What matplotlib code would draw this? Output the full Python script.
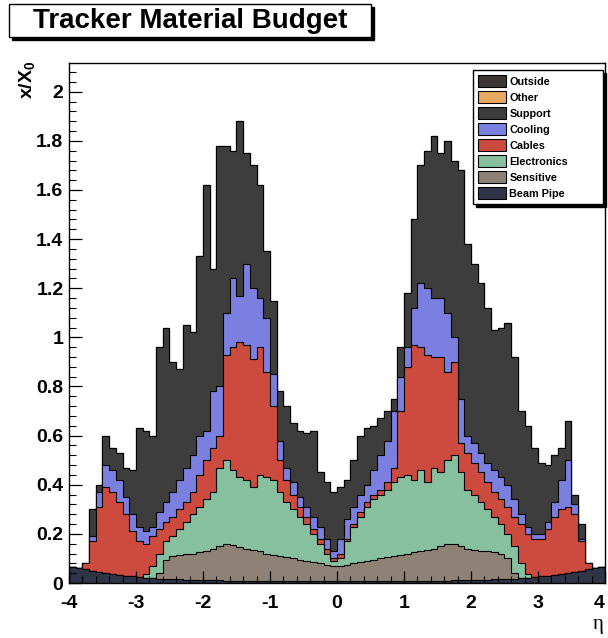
import numpy as np
import matplotlib.pyplot as plt
from matplotlib.patches import Patch, Rectangle

plt.rcParams['font.family'] = ['Liberation Sans', 'DejaVu Sans']
plt.rcParams['mathtext.fontset'] = 'custom'
plt.rcParams['mathtext.rm'] = 'Liberation Sans'
plt.rcParams['mathtext.bf'] = 'Liberation Sans:bold'

# eta bins, width 0.1
eta_edges = np.linspace(-4, 4, 81)

# stacked x/X0 levels (each list is the running total up to that subsystem)
beam_pipe = [0.065, 0.06, 0.055, 0.05, 0.045, 0.041, 0.037, 0.033, 0.03, 0.027,
             0.024, 0.022, 0.02, 0.018, 0.017, 0.016, 0.015, 0.014, 0.013, 0.012,
             0.012, 0.011, 0.011, 0.01, 0.01, 0.01, 0.01, 0.01, 0.01, 0.01,
             0.01, 0.01, 0.01, 0.01, 0.01, 0.01, 0.01, 0.01, 0.01, 0.01,
             0.01, 0.01, 0.01, 0.01, 0.01, 0.01, 0.01, 0.01, 0.01, 0.01,
             0.01, 0.01, 0.01, 0.01, 0.01, 0.01, 0.01, 0.011, 0.011, 0.012,
             0.012, 0.013, 0.014, 0.015, 0.016, 0.017, 0.018, 0.02, 0.022, 0.024,
             0.027, 0.03, 0.033, 0.037, 0.041, 0.045, 0.05, 0.055, 0.06, 0.065]

sensitive = [0.065, 0.06, 0.055, 0.05, 0.045, 0.041, 0.037, 0.033, 0.03, 0.027,
             0.024, 0.022, 0.02, 0.04, 0.095, 0.11, 0.115, 0.12, 0.12, 0.125,
             0.13, 0.14, 0.15, 0.16, 0.155, 0.145, 0.14, 0.135, 0.13, 0.12,
             0.115, 0.11, 0.105, 0.1, 0.095, 0.09, 0.085, 0.08, 0.075, 0.07,
             0.07, 0.075, 0.08, 0.085, 0.09, 0.095, 0.1, 0.105, 0.11, 0.115,
             0.12, 0.125, 0.13, 0.135, 0.14, 0.15, 0.16, 0.16, 0.15, 0.14,
             0.135, 0.13, 0.13, 0.125, 0.12, 0.1, 0.04, 0.02, 0.022, 0.024,
             0.027, 0.03, 0.033, 0.037, 0.041, 0.045, 0.05, 0.055, 0.06, 0.065]

electronics = [0.065, 0.06, 0.055, 0.05, 0.045, 0.041, 0.037, 0.033, 0.03, 0.027,
               0.024, 0.035, 0.07, 0.12, 0.17, 0.19, 0.22, 0.25, 0.28, 0.31,
               0.34, 0.37, 0.47, 0.5, 0.46, 0.43, 0.42, 0.39, 0.44, 0.43,
               0.42, 0.37, 0.33, 0.3, 0.27, 0.24, 0.2, 0.16, 0.12, 0.09,
               0.1, 0.17, 0.23, 0.27, 0.31, 0.34, 0.36, 0.38, 0.41, 0.43,
               0.44, 0.42, 0.46, 0.41, 0.47, 0.45, 0.5, 0.52, 0.45, 0.38,
               0.36, 0.33, 0.3, 0.27, 0.24, 0.2, 0.15, 0.08, 0.035, 0.024,
               0.027, 0.03, 0.033, 0.037, 0.041, 0.045, 0.05, 0.055, 0.06, 0.065]

cables = [0.065, 0.06, 0.08, 0.17, 0.31, 0.39, 0.37, 0.33, 0.28, 0.21,
          0.17, 0.16, 0.19, 0.22, 0.25, 0.27, 0.3, 0.33, 0.37, 0.44,
          0.5, 0.55, 0.6, 0.93, 0.96, 0.98, 0.97, 0.91, 0.96, 0.86,
          0.72, 0.5, 0.42, 0.36, 0.31, 0.27, 0.22, 0.18, 0.14, 0.1,
          0.12, 0.18, 0.24, 0.29, 0.33, 0.36, 0.38, 0.41, 0.47, 0.7,
          0.88, 0.97, 0.96, 0.93, 0.92, 0.92, 0.86, 0.9, 0.57, 0.53,
          0.49, 0.45, 0.41, 0.37, 0.34, 0.31, 0.27, 0.24, 0.2, 0.18,
          0.18, 0.22, 0.27, 0.3, 0.31, 0.28, 0.17, 0.08, 0.06, 0.065]

cooling = [0.065, 0.06, 0.08, 0.19, 0.37, 0.48, 0.46, 0.42, 0.35, 0.28,
           0.23, 0.21, 0.23, 0.29, 0.33, 0.37, 0.42, 0.47, 0.52, 0.6,
           0.62, 0.78, 0.8, 1.1, 1.24, 1.17, 1.3, 1.2, 1.16, 1.08,
           0.85, 0.58, 0.47, 0.41, 0.35, 0.31, 0.27, 0.23, 0.18, 0.13,
           0.18, 0.26, 0.31, 0.36, 0.4, 0.46, 0.52, 0.58, 0.7, 0.84,
           0.96, 1.12, 1.22, 1.2, 1.16, 1.16, 1.1, 1.0, 0.75, 0.6,
           0.57, 0.53, 0.49, 0.46, 0.43, 0.4, 0.34, 0.28, 0.23, 0.2,
           0.2, 0.25, 0.33, 0.42, 0.5, 0.32, 0.18, 0.08, 0.06, 0.065]

support = [0.065, 0.06, 0.08, 0.3, 0.4, 0.6, 0.55, 0.53, 0.47, 0.46,
           0.63, 0.62, 0.6, 0.96, 1.04, 0.9, 0.87, 1.05, 1.02, 1.33,
           1.62, 1.28, 1.78, 1.78, 1.76, 1.88, 1.75, 1.7, 1.62, 1.35,
           1.15, 0.78, 0.72, 0.65, 0.62, 0.61, 0.62, 0.45, 0.41, 0.37,
           0.39, 0.42, 0.5, 0.6, 0.63, 0.64, 0.67, 0.7, 0.75, 0.96,
           1.18, 1.48, 1.7, 1.76, 1.82, 1.75, 1.8, 1.72, 1.68, 1.38,
           1.3, 1.22, 1.12, 1.03, 1.04, 1.06, 0.92, 0.7, 0.64, 0.55,
           0.49, 0.48, 0.52, 0.55, 0.66, 0.36, 0.24, 0.08, 0.06, 0.065]

# nothing is booked under "Other" or "Outside"
other = support
outside = support

layer_names = ['Outside', 'Other', 'Support', 'Cooling', 'Cables',
               'Electronics', 'Sensitive', 'Beam Pipe']
layer_values = [outside, other, support, cooling, cables,
                electronics, sensitive, beam_pipe]
layer_colors = ['#3b3631', '#e8a961', '#3d3d3d', '#7b7fe0', '#cc4a3e',
                '#86c09e', '#8e8276', '#2f3447']

fig = plt.figure(figsize=(6.08, 6.38), dpi=100)
ax = fig.add_axes([69 / 608, 55 / 638, 536 / 608, 520 / 638])

# draw like a THStack: biggest total first, lower ones on top
for vals, col in zip(layer_values, layer_colors):
    ax.stairs(vals, eta_edges, fill=True, baseline=0,
              facecolor=col, edgecolor='black', linewidth=0.8)

ax.set_xlim(-4, 4)
ax.set_ylim(0, 2.117)
ax.set_xticks(np.arange(-4, 4.01, 1))
ax.set_xticks(np.arange(-4, 4.01, 0.2), minor=True)
ax.set_yticks(np.arange(0, 2.01, 0.2))
ax.set_yticks(np.arange(0, 2.1, 0.04), minor=True)
ax.set_xticklabels(['-4', '-3', '-2', '-1', '0', '1', '2', '3', '4'])
ax.set_yticklabels(['0', '0.2', '0.4', '0.6', '0.8', '1', '1.2', '1.4',
                    '1.6', '1.8', '2'])
ax.tick_params(which='both', direction='in', top=False, right=False)
ax.tick_params(which='major', length=9, width=0.9)
ax.tick_params(which='minor', length=5, width=0.8)
ax.tick_params(axis='x', pad=9)
ax.tick_params(axis='y', pad=4)
for lab in ax.get_xticklabels() + ax.get_yticklabels():
    lab.set_fontsize(14)
    lab.set_fontweight('bold')
# last label sits on the frame edge, keep it inside the canvas
ax.get_xticklabels()[-1].set_horizontalalignment('right')
for sp in ax.spines.values():
    sp.set_linewidth(1.0)

handles = [Patch(facecolor=c, edgecolor='black', linewidth=0.8, label=n)
           for n, c in zip(layer_names, layer_colors)]
leg = ax.legend(handles=handles, loc='upper left', mode='expand',
                bbox_to_anchor=((473 - 69) / 536, 1 - 7 / 520,
                                130 / 536, 0.0),
                borderaxespad=0, frameon=True, fancybox=False,
                edgecolor='black', framealpha=1,
                prop={'weight': 'bold', 'size': 7.8},
                handlelength=2.5, handleheight=1.25, handletextpad=0.35,
                labelspacing=0.42, borderpad=0.5,
                shadow={'facecolor': 'black', 'edgecolor': 'black', 'alpha': 1})
leg.get_frame().set_linewidth(1.0)

# title box with drop shadow
fig.patches.append(Rectangle((12 / 608, 1 - 40 / 638), 362 / 608, 33 / 638,
                             transform=fig.transFigure, facecolor='black',
                             edgecolor='black', zorder=1))
fig.patches.append(Rectangle((9 / 608, 1 - 37 / 638), 362 / 608, 33 / 638,
                             transform=fig.transFigure, facecolor='white',
                             edgecolor='black', linewidth=1.0, zorder=2))
fig.text(190 / 608, 1 - 21 / 638, 'Tracker Material Budget', fontsize=20,
         fontweight='bold', ha='center', va='center', zorder=3)

fig.text(27 / 608, 1 - 80 / 638, r'$\mathbf{x/X_0}$', fontsize=14,
         rotation=90, ha='center', va='center')
fig.text(598 / 608, 1 - 624 / 638, 'η', fontsize=15,
         family=['Liberation Serif', 'DejaVu Serif'], ha='center', va='center')

fig.savefig('out.png', dpi=100)
